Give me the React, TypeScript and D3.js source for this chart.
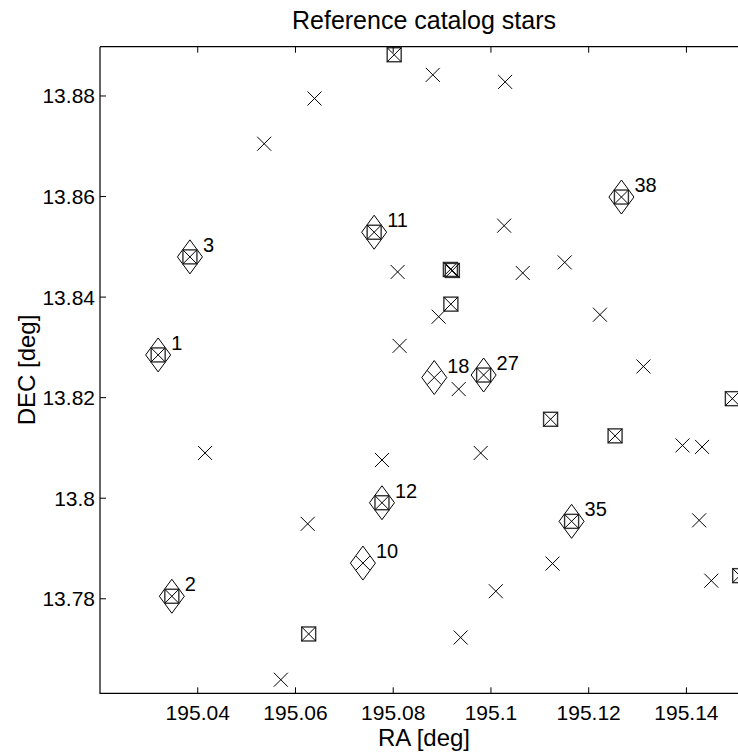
import React, { useEffect, useRef } from "react";
import * as d3 from "d3";

// all catalog stars (x marker)
const starRA = [
  195.0639, 195.0536, 195.0809, 195.0813, 195.0881, 195.1029, 195.1027, 195.1065,
  195.1151, 195.0893, 195.1223, 195.1312, 195.0934, 195.1392, 195.1432, 195.0979,
  195.1426, 195.1126, 195.101, 195.1451, 195.0938, 195.0415, 195.0777, 195.0625,
  195.057,
];
const starDEC = [
  13.8795, 13.8705, 13.845, 13.8303, 13.8842, 13.8828, 13.8542, 13.8448,
  13.8469, 13.8361, 13.8365, 13.8262, 13.8217, 13.8105, 13.8102, 13.809,
  13.7956, 13.787, 13.7815, 13.7836, 13.7723, 13.809, 13.8076, 13.7949,
  13.7639,
];

// matched stars (square + x)
const matchRA = [195.0802, 195.0917, 195.0921, 195.0918, 195.1494, 195.1122, 195.1254, 195.1509, 195.0627];
const matchDEC = [13.8882, 13.8455, 13.8453, 13.8386, 13.8198, 13.8157, 13.8124, 13.7846, 13.773];

// labelled stars (diamond)
const labelIds = ["1", "2", "3", "11", "12", "27", "35", "38", "10", "18"];
const labelRA = [195.0319, 195.0347, 195.0384, 195.0761, 195.0777, 195.0985, 195.1165, 195.1267, 195.0738, 195.0884];
const labelDEC = [13.8285, 13.7805, 13.848, 13.8529, 13.7991, 13.8245, 13.7954, 13.8599, 13.7871, 13.824];
const labelMatched = [true, true, true, true, true, true, true, true, false, false];

const xTicks = [195.04, 195.06, 195.08, 195.1, 195.12, 195.14];
const yTicks = [13.78, 13.8, 13.82, 13.84, 13.86, 13.88];

const FONT = "'Liberation Sans', Arial, Helvetica, sans-serif";

const App = () => {
  const ref = useRef<SVGSVGElement>(null);

  useEffect(() => {
    const W = 738;
    const left = 100;
    const right = 748; // axes go past the window edge
    const top = 46.7;
    const bottom = 693.3;

    const svg = d3.select(ref.current);
    svg.selectAll("*").remove();

    const x = d3.scaleLinear().domain([195.02, 195.1526]).range([left, right]);
    const y = d3.scaleLinear().domain([13.7612, 13.8898]).range([bottom, top]);

    svg
      .append("defs")
      .append("clipPath")
      .attr("id", "plotclip")
      .append("rect")
      .attr("x", left)
      .attr("y", top - 20)
      .attr("width", W - left)
      .attr("height", bottom - top + 20);

    const marks = svg.append("g").attr("clip-path", "url(#plotclip)");

    const xMark = (g: any, cx: number, cy: number) => {
      const s = 7;
      g.append("path")
        .attr("d", `M${cx - s},${cy - s}L${cx + s},${cy + s}M${cx - s},${cy + s}L${cx + s},${cy - s}`)
        .attr("stroke", "#000")
        .attr("stroke-width", 1)
        .attr("fill", "none");
    };
    const sqMark = (g: any, cx: number, cy: number) => {
      const s = 7;
      g.append("rect")
        .attr("x", cx - s)
        .attr("y", cy - s)
        .attr("width", 2 * s)
        .attr("height", 2 * s)
        .attr("stroke", "#333")
        .attr("stroke-width", 1.4)
        .attr("fill", "none");
    };
    const dMark = (g: any, cx: number, cy: number) => {
      const a = 12.5;
      const b = 17;
      g.append("path")
        .attr("d", `M${cx},${cy - b}L${cx + a},${cy}L${cx},${cy + b}L${cx - a},${cy}Z`)
        .attr("stroke", "#000")
        .attr("stroke-width", 1)
        .attr("fill", "none");
    };

    starRA.forEach((ra, i) => xMark(marks, x(ra), y(starDEC[i])));
    matchRA.forEach((ra, i) => {
      sqMark(marks, x(ra), y(matchDEC[i]));
      xMark(marks, x(ra), y(matchDEC[i]));
    });
    labelRA.forEach((ra, i) => {
      const cx = x(ra);
      const cy = y(labelDEC[i]);
      dMark(marks, cx, cy);
      if (labelMatched[i]) sqMark(marks, cx, cy);
      xMark(marks, cx, cy);
      marks
        .append("text")
        .attr("x", cx + 13)
        .attr("y", cy - 12)
        .attr("dominant-baseline", "central")
        .attr("font-family", FONT)
        .attr("font-size", 20)
        .attr("fill", "#000")
        .text(labelIds[i]);
    });

    // axes box (left, top, bottom)
    const axis = svg.append("g").attr("stroke", "#000").attr("stroke-width", 1.2).attr("fill", "none");
    axis.append("path").attr("d", `M${left},${top}H${W}M${left},${top}V${bottom}H${W}`);

    const tl = 6;
    xTicks.forEach((t) => {
      const px = x(t);
      axis.append("path").attr("d", `M${px},${bottom}V${bottom - tl}M${px},${top}V${top + tl}`).attr("stroke-width", 1);
      svg
        .append("text")
        .attr("x", px)
        .attr("y", bottom + 27)
        .attr("text-anchor", "middle")
        .attr("font-family", FONT)
        .attr("font-size", 21)
        .text(d3.format("")(t));
    });
    yTicks.forEach((t) => {
      const py = y(t);
      axis.append("path").attr("d", `M${left},${py}H${left + tl}`).attr("stroke-width", 1);
      svg
        .append("text")
        .attr("x", left - 5)
        .attr("y", py)
        .attr("text-anchor", "end")
        .attr("dominant-baseline", "central")
        .attr("font-family", FONT)
        .attr("font-size", 21)
        .text(d3.format("")(t));
    });

    const midX = (left + right) / 2;
    svg
      .append("text")
      .attr("x", midX)
      .attr("y", 29)
      .attr("text-anchor", "middle")
      .attr("font-family", FONT)
      .attr("font-size", 25)
      .text("Reference catalog stars");
    svg
      .append("text")
      .attr("x", midX)
      .attr("y", 746)
      .attr("text-anchor", "middle")
      .attr("font-family", FONT)
      .attr("font-size", 24)
      .text("RA [deg]");
    svg
      .append("text")
      .attr("transform", `translate(35,${(top + bottom) / 2}) rotate(-90)`)
      .attr("text-anchor", "middle")
      .attr("font-family", FONT)
      .attr("font-size", 24)
      .text("DEC [deg]");
  }, []);

  return (
    <svg
      ref={ref}
      width={738}
      height={753}
      style={{ position: "absolute", left: 0, top: 0, background: "#fff" }}
    />
  );
};

export default App;
